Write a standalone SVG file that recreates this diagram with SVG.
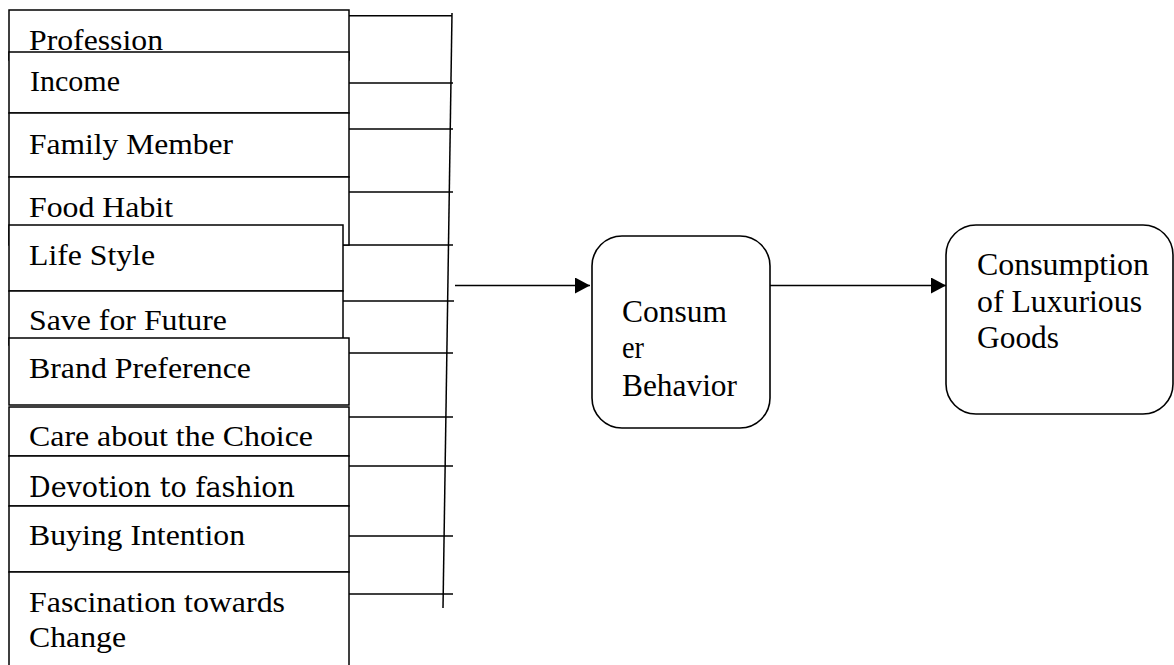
<svg xmlns="http://www.w3.org/2000/svg" width="1174" height="665" viewBox="0 0 1174 665">
<style>
.box{fill:#fff;stroke:#000;stroke-width:1.5}
.rbox{fill:#fff;stroke:#000;stroke-width:1.6}
.t{font-family:"Times New Roman","Liberation Serif",serif;font-size:30px;fill:#000}
.tc{font-family:"Times New Roman","Liberation Serif",serif;font-size:32px;fill:#000}
.td{font-family:"DejaVu Serif","Liberation Serif",serif;font-size:27px;fill:#000}
.ln{stroke:#000;stroke-width:1.5;fill:none}
</style>
<defs>
<marker id="ah" markerWidth="16" markerHeight="16" refX="15" refY="8" orient="auto" markerUnits="userSpaceOnUse">
<path d="M0,0 L15,8 L0,16 Z" fill="#000"/>
</marker>
</defs>
<rect width="1174" height="665" fill="#fff"/>
<g id="connectors">
<line class="ln" x1="452" y1="13" x2="443" y2="608"/>
<line class="ln" x1="349" y1="15.7" x2="452" y2="15.7"/>
<line class="ln" x1="349" y1="83" x2="453" y2="83"/>
<line class="ln" x1="349" y1="129" x2="453" y2="129"/>
<line class="ln" x1="349" y1="192" x2="453" y2="192"/>
<line class="ln" x1="343" y1="245" x2="453" y2="245"/>
<line class="ln" x1="343" y1="301" x2="454" y2="301"/>
<line class="ln" x1="349" y1="353" x2="453" y2="353"/>
<line class="ln" x1="349" y1="417" x2="453" y2="417"/>
<line class="ln" x1="349" y1="466" x2="453" y2="466"/>
<line class="ln" x1="349" y1="536" x2="453" y2="536"/>
<line class="ln" x1="349" y1="594" x2="453" y2="594"/>
<line class="ln" x1="455" y1="285.5" x2="590" y2="285.5" marker-end="url(#ah)"/>
<line class="ln" x1="770" y1="285.5" x2="946" y2="285.5" marker-end="url(#ah)"/>
</g>
<g id="profession"><rect class="box" x="9" y="10" width="340" height="50"/><text class="t" x="29" y="50" textLength="134" lengthAdjust="spacingAndGlyphs">Profession</text></g>
<g id="income"><rect class="box" x="9" y="52" width="340" height="61"/><text class="t" x="30" y="91" textLength="90" lengthAdjust="spacingAndGlyphs">Income</text></g>
<g id="family-member"><rect class="box" x="9" y="113" width="340" height="64"/><text class="t" x="29" y="154" textLength="204" lengthAdjust="spacingAndGlyphs">Family Member</text></g>
<g id="food-habit"><rect class="box" x="9" y="177" width="340" height="68"/><text class="t" x="29" y="217" textLength="144" lengthAdjust="spacingAndGlyphs">Food Habit</text></g>
<g id="life-style"><rect class="box" x="9" y="225" width="334" height="66"/><text class="t" x="29" y="265" textLength="126" lengthAdjust="spacingAndGlyphs">Life Style</text></g>
<g id="save-for-future"><rect class="box" x="9" y="291" width="334" height="54"/><text class="t" x="29" y="330" textLength="198" lengthAdjust="spacingAndGlyphs">Save for Future</text></g>
<g id="brand-preference"><rect class="box" x="9" y="338" width="340" height="67"/><text class="t" x="29" y="378" textLength="222" lengthAdjust="spacingAndGlyphs">Brand Preference</text></g>
<g id="care-about-choice"><rect class="box" x="9" y="407" width="340" height="49"/><text class="t" x="29" y="446" textLength="284" lengthAdjust="spacingAndGlyphs">Care about the Choice</text></g>
<g id="devotion-to-fashion"><rect class="box" x="9" y="456" width="340" height="50"/><text class="td" x="29" y="497" textLength="266" lengthAdjust="spacingAndGlyphs">Devotion to fashion</text></g>
<g id="buying-intention"><rect class="box" x="9" y="506" width="340" height="66"/><text class="t" x="29" y="545" textLength="216" lengthAdjust="spacingAndGlyphs">Buying Intention</text></g>
<g id="fascination-towards-change"><rect class="box" x="9" y="572" width="340" height="110"/><text class="t" x="29" y="612" textLength="256" lengthAdjust="spacingAndGlyphs">Fascination towards</text><text class="t" x="29" y="647" textLength="97" lengthAdjust="spacingAndGlyphs">Change</text></g>
<g id="consumer-behavior"><rect class="rbox" x="592" y="236" width="178" height="192" rx="30" ry="30"/><text class="tc" x="622" y="322" textLength="105" lengthAdjust="spacingAndGlyphs">Consum</text><text class="tc" x="622" y="358" textLength="22" lengthAdjust="spacingAndGlyphs">er</text><text class="tc" x="622" y="396" textLength="115" lengthAdjust="spacingAndGlyphs">Behavior</text></g>
<g id="consumption-luxurious-goods"><rect class="rbox" x="946" y="225" width="227" height="189" rx="30" ry="30"/><text class="tc" x="977" y="275" textLength="172" lengthAdjust="spacingAndGlyphs">Consumption</text><text class="tc" x="977" y="312" textLength="165" lengthAdjust="spacingAndGlyphs">of Luxurious</text><text class="tc" x="977" y="348" textLength="82" lengthAdjust="spacingAndGlyphs">Goods</text></g>
</svg>
